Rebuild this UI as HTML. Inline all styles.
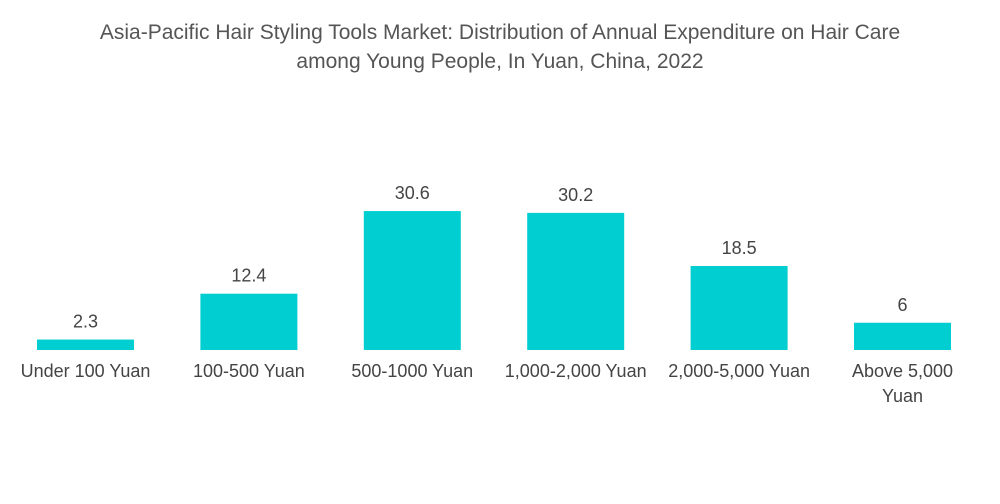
<!DOCTYPE html>
<html><head><meta charset="utf-8"><style>
body{margin:0;background:#fff;font-family:"Liberation Sans",sans-serif;}
#wrap{position:relative;width:1000px;height:504px;overflow:hidden}
.title{position:absolute;left:0;top:18px;width:1000px;text-align:center;color:#555;font-size:21px;line-height:29px}
</style></head><body>
<div id="wrap">
<div class="title">Asia-Pacific Hair Styling Tools Market: Distribution of Annual Expenditure on Hair Care<br>among Young People, In Yuan, China, 2022</div>
<svg id="svg" width="1000" height="504" style="position:absolute;left:0;top:0"></svg>
</div>
<script>
const categories=["Under 100 Yuan","100-500 Yuan","500-1000 Yuan","1,000-2,000 Yuan","2,000-5,000 Yuan","Above 5,000|Yuan"];
const values=[2.3,12.4,30.6,30.2,18.5,6];
const valueLabels=["2.3","12.4","30.6","30.2","18.5","6"];
const ns="http://www.w3.org/2000/svg";
const svg=document.getElementById('svg');
const base=350, scale=4.54, x0=85.5, step=163.4, bw=97;
const xPos=i=>x0+i*step;
const yPos=v=>base-v*scale;
function mk(t,a){const e=document.createElementNS(ns,t);for(const k in a)e.setAttribute(k,a[k]);svg.appendChild(e);return e;}
values.forEach((v,i)=>{
  const r=mk('rect',{x:xPos(i)-bw/2,y:yPos(v),width:bw,height:base-yPos(v),fill:'#00CED1'});
  
  
  const t=mk('text',{x:xPos(i),y:yPos(v)-12,'text-anchor':'middle','font-size':'18','fill':'#444','font-family':'Liberation Sans, sans-serif'});
  t.textContent=valueLabels[i];
  
  
  categories[i].split('|').forEach((line,j)=>{
    const c=mk('text',{x:xPos(i),y:377+j*25,'text-anchor':'middle','font-size':'18','fill':'#444','font-family':'Liberation Sans, sans-serif'});
    c.textContent=line;
    
    
  });
});
</script>
</body></html>
